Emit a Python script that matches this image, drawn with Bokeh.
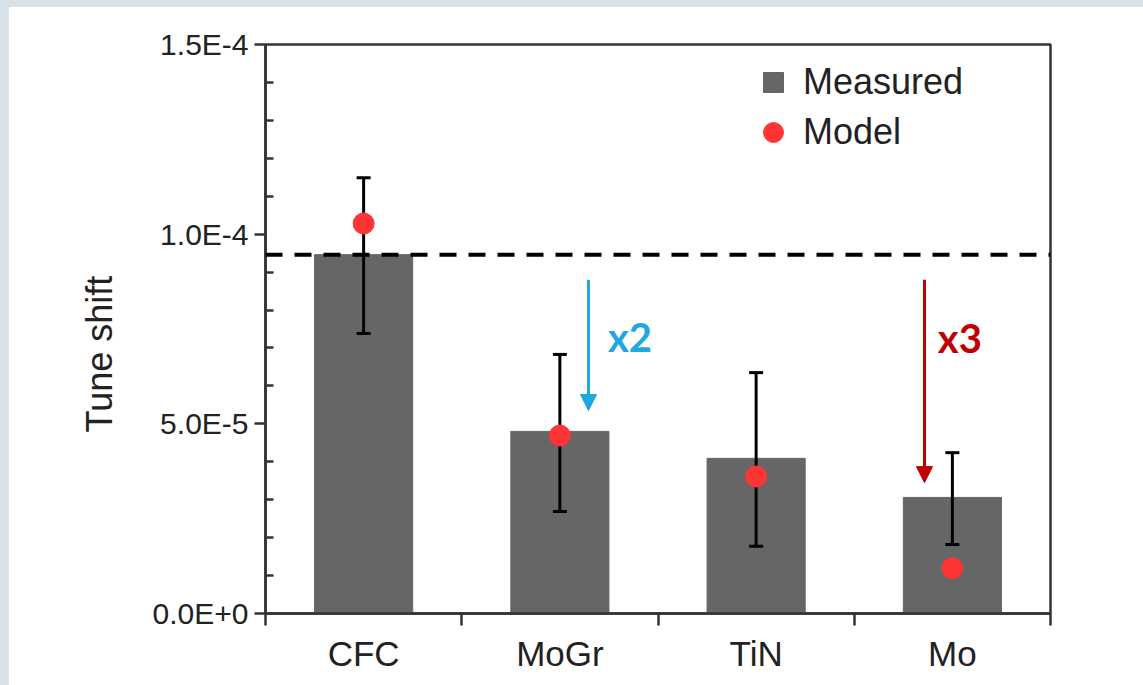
import numpy as np
from bokeh.plotting import figure
from bokeh.models import (Range1d, FixedTicker, CustomJSTickFormatter, Span, Arrow, NormalHead,
                          Legend, LegendItem, Spacer, ColumnDataSource, Title)
from bokeh.layouts import row, column
from bokeh.core.properties import value
from bokeh.embed import file_html
from bokeh.resources import INLINE

# ---- data ----
categories = ["CFC", "MoGr", "TiN", "Mo"]
measured = [9.46e-5, 4.80e-5, 4.09e-5, 3.06e-5]
err_upper = [1.149e-4, 6.83e-5, 6.35e-5, 4.24e-5]
err_lower = [7.38e-5, 2.69e-5, 1.77e-5, 1.82e-5]
model = [1.028e-4, 4.69e-5, 3.61e-5, 1.19e-5]

y_major_ticks = [0.0, 5e-5, 1e-4, 1.5e-4]
y_minor_ticks = [1e-5, 2e-5, 3e-5, 4e-5, 6e-5, 7e-5, 8e-5, 9e-5,
                 1.1e-4, 1.2e-4, 1.3e-4, 1.4e-4]

arrow_x = [1.646, 3.358]
arrow_y_start = [8.80e-5, 8.80e-5]
arrow_y_end = [5.35e-5, 3.45e-5]
factor_labels = ["x2", "x3"]
factor_x = [1.745, 3.426]
factor_y = [7.30e-5, 7.25e-5]
factor_colors = ["#1ea8e0", "#c00000"]

y_title = "Tune shift"

BAR = "#666666"
RED = "#ff3434"
AX = "#333333"
FONT = "Liberation Sans"
BG = "#d9e1e8"

xc = [i + 0.5 for i in range(len(categories))]
src = ColumnDataSource(dict(x=xc, cat=categories, measured=measured, up=err_upper,
                            lo=err_lower, model=model))

p = figure(width=1134, height=678, output_backend="svg", toolbar_location=None,
           x_range=Range1d(0, len(categories)), y_range=Range1d(0, 1.5e-4),
           min_border_left=256, min_border_right=93, min_border_top=37, min_border_bottom=72)
p.background_fill_color = "white"
p.border_fill_color = "white"
p.outline_line_color = AX
p.outline_line_width = 2.5
p.xgrid.visible = False
p.ygrid.visible = False

bars = p.vbar(x="x", top="measured", width=0.5, bottom=0, source=src,
              fill_color=BAR, line_color=BAR)
p.segment(x0="x", y0="lo", x1="x", y1="up", source=src, line_color="black", line_width=3)
p.scatter(x="x", y="up", source=src, marker="dash", size=14, line_width=3, line_color="black")
p.scatter(x="x", y="lo", source=src, marker="dash", size=14, line_width=3, line_color="black")
dots = p.scatter(x="x", y="model", source=src, marker="circle", size=21,
                 fill_color=RED, line_color=RED)

p.add_layout(Span(location=measured[0], dimension="width", line_color="black",
                  line_width=4, line_dash="17 12"))

for ax_, y0, y1, c in zip(arrow_x, arrow_y_start, arrow_y_end, factor_colors):
    p.add_layout(Arrow(x_start=ax_, y_start=y0, x_end=ax_, y_end=y1, line_color=c, line_width=3,
                       end=NormalHead(size=16, fill_color=c, line_color=c, line_width=1)))

tsrc = ColumnDataSource(dict(x=factor_x, y=factor_y, t=factor_labels, c=factor_colors))
p.text(x="x", y="y", text="t", source=tsrc, text_color="c", text_font=value("Lato"),
       text_font_style="bold", text_font_size="40px", text_align="left", text_baseline="middle")

# legend proxies (single off-screen NaN point so the legend glyph is drawn)
leg_sq = p.scatter(x=np.array([np.nan]), y=np.array([np.nan]), marker="square",
                   fill_color=BAR, line_color=BAR)
leg_ci = p.scatter(x=np.array([np.nan]), y=np.array([np.nan]), marker="circle",
                   fill_color=RED, line_color=RED)
legend = Legend(items=[LegendItem(label="Measured", renderers=[leg_sq]),
                       LegendItem(label="Model", renderers=[leg_ci])],
                location=(483, 456), padding=0, margin=0, spacing=0,
                glyph_width=50, glyph_height=50, label_height=50, label_standoff=5,
                border_line_color=None, background_fill_alpha=0,
                label_text_font=FONT, label_text_font_size="36px", label_text_color="#222222")
p.add_layout(legend)

# x axis: labels at centres, ticks at category boundaries
xa = p.xaxis[0]
xa.ticker = FixedTicker(ticks=xc, minor_ticks=list(range(len(categories) + 1)))
xa.major_label_overrides = {x: c for x, c in zip(xc, categories)}
xa.major_tick_line_color = None
xa.major_tick_out = 12
xa.major_tick_in = 0
xa.minor_tick_out = 12
xa.minor_tick_in = 0
xa.minor_tick_line_color = AX
xa.minor_tick_line_width = 2.5
xa.axis_line_color = AX
xa.axis_line_width = 2.5
xa.major_label_standoff = 8
xa.major_label_text_font = FONT
xa.major_label_text_font_size = "35px"
xa.major_label_text_color = "#222222"

ya = p.yaxis[0]
ya.ticker = FixedTicker(ticks=y_major_ticks, minor_ticks=y_minor_ticks)
ya.formatter = CustomJSTickFormatter(code="return tick.toExponential(1).toUpperCase();")
ya.major_tick_out = 11
ya.major_tick_in = 0
ya.minor_tick_out = 0
ya.minor_tick_in = 8
ya.major_tick_line_color = AX
ya.minor_tick_line_color = AX
ya.major_tick_line_width = 2.5
ya.minor_tick_line_width = 2.5
ya.axis_line_color = AX
ya.axis_line_width = 2.5
ya.major_label_standoff = 6
ya.major_label_text_font = FONT
ya.major_label_text_font_size = "30px"
ya.major_label_text_color = "#222222"

# y-axis title as a side title (sits a little below the frame centre in the original)
p.add_layout(Title(text=y_title, align="left", offset=181, standoff=59,
                   text_font=FONT, text_font_size="36px", text_font_style="normal",
                   text_color="#222222"), "left")

left_strip = Spacer(width=9, height=685, styles={"background-color": BG})
top_strip = Spacer(width=1134, height=7, styles={"background-color": BG})
layout = row(left_strip, column(top_strip, p, spacing=0), spacing=0)

open("out.html", "w").write(file_html(layout, INLINE))
